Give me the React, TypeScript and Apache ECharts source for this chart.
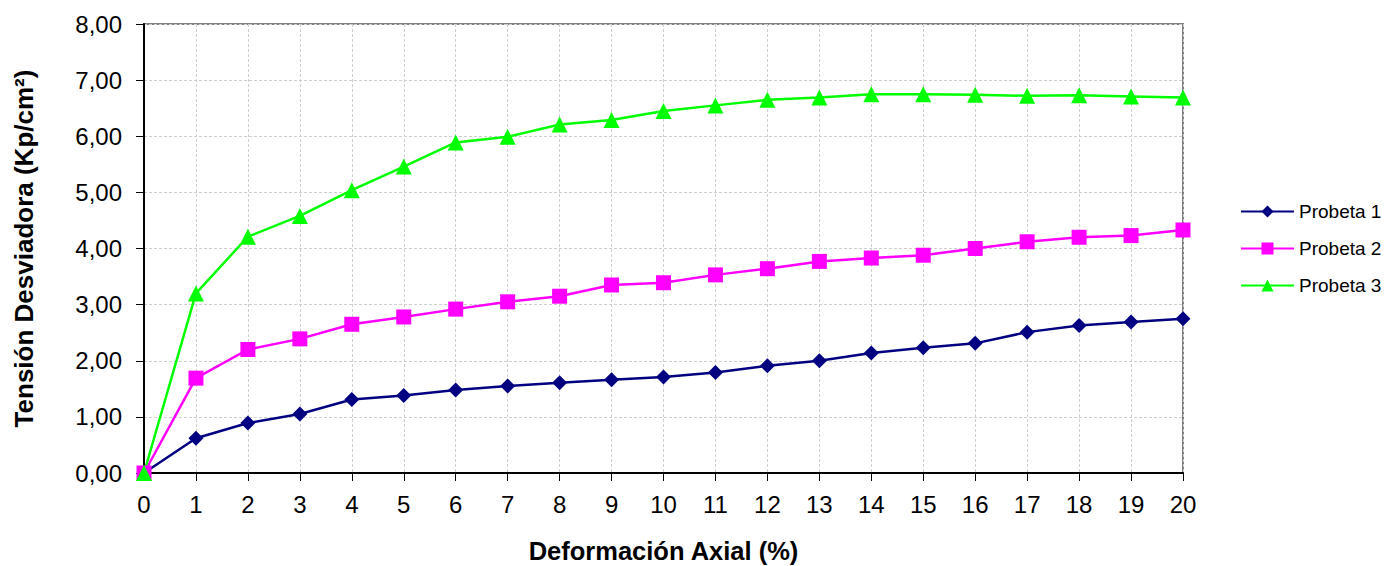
import React, { useEffect, useRef } from "react";
import * as echarts from "echarts";

const xValues = [0, 1, 2, 3, 4, 5, 6, 7, 8, 9, 10, 11, 12, 13, 14, 15, 16, 17, 18, 19, 20];
const probeta1 = [0, 0.62, 0.89, 1.05, 1.31, 1.38, 1.48, 1.55, 1.61, 1.66, 1.71, 1.79, 1.91, 2.0, 2.14, 2.23, 2.31, 2.51, 2.63, 2.69, 2.75];
const probeta2 = [0, 1.69, 2.2, 2.39, 2.65, 2.78, 2.92, 3.05, 3.15, 3.35, 3.39, 3.53, 3.64, 3.77, 3.83, 3.88, 4.0, 4.12, 4.2, 4.23, 4.33];
const probeta3 = [0, 3.2, 4.21, 4.58, 5.04, 5.46, 5.89, 5.99, 6.21, 6.29, 6.45, 6.55, 6.65, 6.69, 6.75, 6.75, 6.74, 6.72, 6.73, 6.71, 6.69];
const seriesNames = ["Probeta 1", "Probeta 2", "Probeta 3"];
const xTitle = "Deformación Axial (%)";
const yTitle = "Tensión Desviadora (Kp/cm²)";

const FONT = "Liberation Sans, Arial, sans-serif";

export default function App() {
  const ref = useRef<HTMLDivElement>(null);
  useEffect(() => {
    if (!ref.current) return;
    const chart = echarts.init(ref.current, undefined, { renderer: "svg" });
    const pairs = (ys: number[]) => xValues.map((x, i) => [x, ys[i]]);
    const mk = (name: string, ys: number[], color: string, symbol: string, size: number) => ({
      name,
      type: "line",
      data: pairs(ys),
      symbol,
      symbolSize: size,
      lineStyle: { color, width: 2.5 },
      itemStyle: { color },
      z: 3,
    });
    chart.setOption({
      animation: false,
      backgroundColor: "#ffffff",
      textStyle: { fontFamily: FONT },
      grid: {
        left: 144,
        top: 24,
        right: 201,
        bottom: 93,
        outerBoundsMode: "none",
        containLabel: false,
        show: true,
        borderColor: "#808080",
        borderWidth: 2,
        backgroundColor: "transparent",
      },
      legend: {
        orient: "vertical",
        left: 1240,
        top: 202,
        padding: 0,
        itemWidth: 53,
        itemHeight: 15,
        itemGap: 18,
        data: seriesNames,
        textStyle: { fontSize: 19, color: "#000", fontFamily: FONT },
      },
      xAxis: {
        type: "value",
        min: 0,
        max: 20,
        interval: 1,
        name: xTitle,
        nameLocation: "middle",
        nameGap: 65,
        nameTextStyle: { fontSize: 25.5, fontWeight: "bold", color: "#000", fontFamily: FONT },
        axisLine: { show: true, lineStyle: { color: "#000", width: 2 } },
        axisTick: { show: true, length: 8, lineStyle: { color: "#000", width: 1 } },
        axisLabel: { fontSize: 24, color: "#000", margin: 19, fontFamily: FONT },
        splitLine: { show: true, lineStyle: { color: "#cfcfcf", width: 1, type: [3, 2] } },
      },
      yAxis: {
        type: "value",
        min: 0,
        max: 8,
        interval: 1,
        name: yTitle,
        nameLocation: "middle",
        nameGap: 107,
        nameTextStyle: { fontSize: 26, fontWeight: "bold", color: "#000", fontFamily: FONT },
        axisLine: { show: true, lineStyle: { color: "#000", width: 2 } },
        axisTick: { show: true, length: 8, lineStyle: { color: "#000", width: 1 } },
        axisLabel: {
          fontSize: 24,
          color: "#000",
          margin: 22,
          fontFamily: FONT,
          formatter: (v: number) => v.toFixed(2).replace(".", ","),
        },
        splitLine: { show: true, lineStyle: { color: "#cfcfcf", width: 1, type: [3, 2] } },
      },
      series: [
        mk(seriesNames[0], probeta1, "#000080", "diamond", 15),
        mk(seriesNames[1], probeta2, "#ff00ff", "rect", 15),
        mk(seriesNames[2], probeta3, "#00ff00", "triangle", 16),
      ],
    });
    return () => chart.dispose();
  }, []);
  return <div ref={ref} style={{ width: 1384, height: 566, position: "absolute", left: 0, top: 0 }} />;
}
